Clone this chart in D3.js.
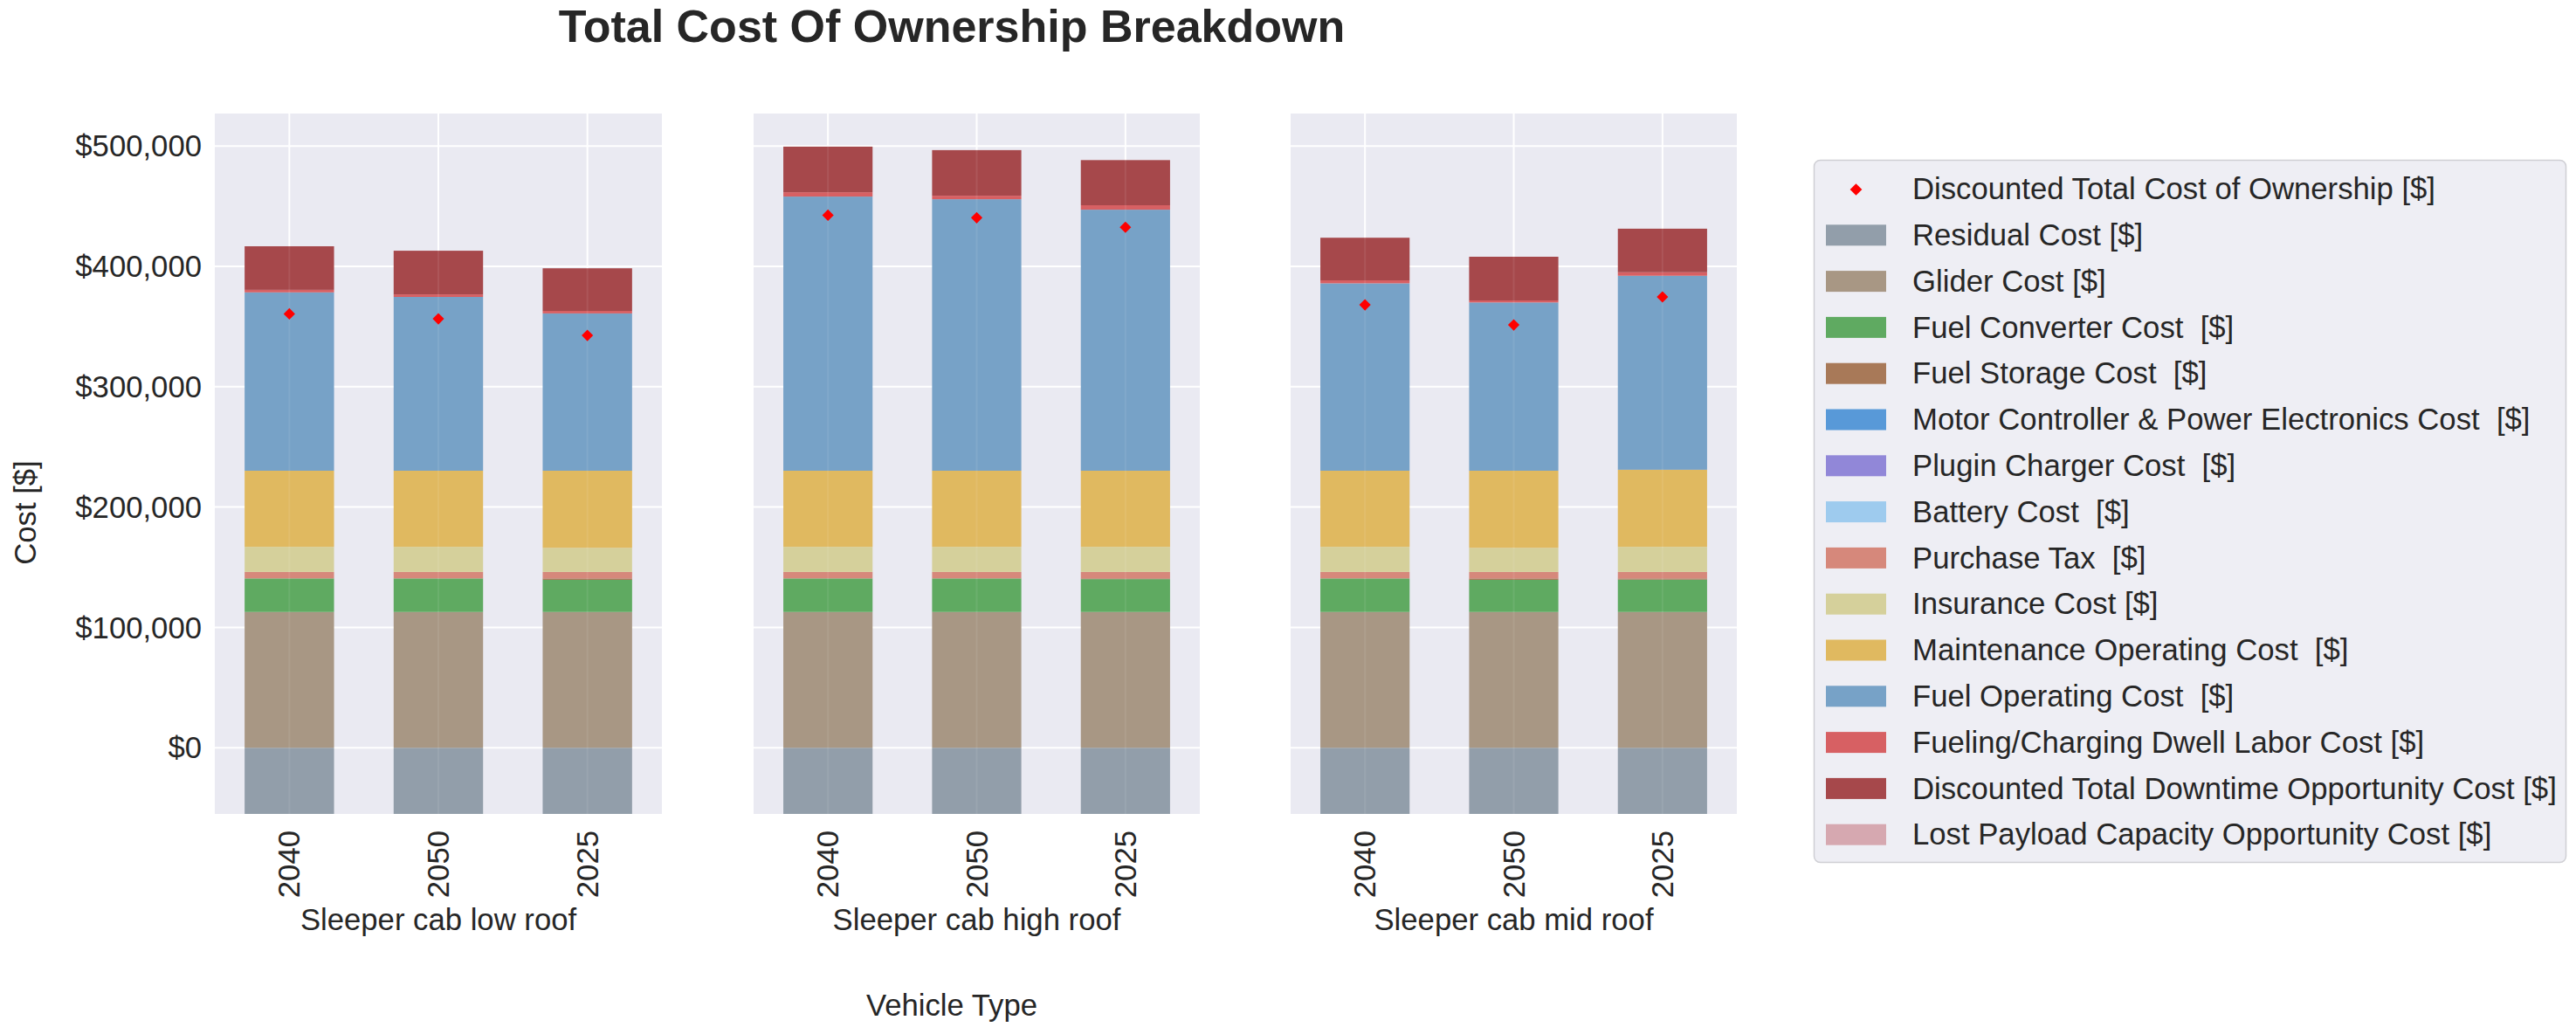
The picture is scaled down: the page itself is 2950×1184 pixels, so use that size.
<!DOCTYPE html>
<html><head><meta charset="utf-8">
<script src="https://cdn.jsdelivr.net/npm/d3@7"></script>
<style>body{margin:0;background:#fff}text{font-family:"Liberation Sans",Arial,sans-serif;fill:#262626;white-space:pre}</style>
</head><body><svg id="c" width="2950" height="1184"></svg>
<script>
const vehicleTypes = ["Sleeper cab low roof", "Sleeper cab high roof", "Sleeper cab mid roof"];
const years = ["2040", "2050", "2025"];
const yTicks = [0, 100000, 200000, 300000, 400000, 500000];
// values ordered: low(2040,2050,2025), high(2040,2050,2025), mid(2040,2050,2025)
const residualCost   = [-60000,-60000,-60000,-60000,-60000,-60000,-60000,-60000,-60000];
const gliderCost     = [112800,112800,112800,112800,112800,112800,112800,112800,112800];
const fuelConverter  = [27900,27900,26700,27900,27900,27300,27900,26700,26900];
const fuelStorage    = [0,0,1200,0,0,600,0,1200,1000];
const motorCtrl      = [0,0,0,0,0,0,0,0,0];
const pluginCharger  = [0,0,0,0,0,0,0,0,0];
const batteryCost    = [0,0,0,0,0,0,0,0,0];
const purchaseTax    = [5400,5400,5400,5400,5400,5400,5400,5400,5400];
const insuranceCost  = [20800,20800,20000,20800,20800,20800,20800,20000,20800];
const maintenanceCost= [63300,63300,64100,63300,63300,63300,63300,64100,64100];
const fuelOperating  = [148200,144400,130700,227800,225600,216900,155700,139800,161200];
const dwellLabor     = [2100,2100,2100,3600,2900,3700,2500,1700,2900];
const downtimeCost   = [36200,36300,35400,37900,37900,37500,35400,36300,36200];
const lostPayload    = [0,0,0,0,0,0,0,0,0];
const discountedTCO  = [360500,356400,342600,442500,440400,432500,368000,351300,374600];

const seriesNames = ["Residual Cost [$]","Glider Cost [$]","Fuel Converter Cost  [$]","Fuel Storage Cost  [$]",
 "Motor Controller & Power Electronics Cost  [$]","Plugin Charger Cost  [$]","Battery Cost  [$]","Purchase Tax  [$]",
 "Insurance Cost [$]","Maintenance Operating Cost  [$]","Fuel Operating Cost  [$]","Fueling/Charging Dwell Labor Cost [$]",
 "Discounted Total Downtime Opportunity Cost [$]","Lost Payload Capacity Opportunity Cost [$]"];
const seriesValues = [residualCost,gliderCost,fuelConverter,fuelStorage,motorCtrl,pluginCharger,batteryCost,purchaseTax,
 insuranceCost,maintenanceCost,fuelOperating,dwellLabor,downtimeCost,lostPayload];
const seriesColors = ["#929eaa","#a89784","#5faa61","#a87958","#5899d8","#9187d8","#9ecbee","#d6887b",
 "#d5d09b","#e0b960","#77a2c7","#d76063","#a6484b","#d6a8b0"];

const FS = 34.7;
const svg = d3.select("#c");
const panelX = [[246,758],[863,1374],[1478,1989]];
const plotTop = 130, plotBottom = 932;
const y = d3.scaleLinear().domain([-55000, 527000]).range([plotBottom, plotTop]);

svg.append("defs").selectAll("clipPath").data(panelX).join("clipPath")
  .attr("id",(d,i)=>"clip"+i).append("rect")
  .attr("x",d=>d[0]).attr("y",plotTop).attr("width",d=>d[1]-d[0]).attr("height",plotBottom-plotTop);

vehicleTypes.forEach((vt, p) => {
  const [x0, x1] = panelX[p];
  const x = d3.scaleBand().domain(years).range([x0, x1]);
  const bw = x.bandwidth() * 0.6;
  const g = svg.append("g");
  g.append("rect").attr("x",x0).attr("y",plotTop).attr("width",x1-x0).attr("height",plotBottom-plotTop).attr("fill","#eaeaf2");
  g.selectAll(".hy").data(yTicks).join("line").attr("x1",x0).attr("x2",x1)
   .attr("y1",d=>y(d)).attr("y2",d=>y(d)).attr("stroke","#fff").attr("stroke-width",2);
  g.selectAll(".vx").data(years).join("line").attr("x1",d=>x(d)+x.bandwidth()/2).attr("x2",d=>x(d)+x.bandwidth()/2)
   .attr("y1",plotTop).attr("y2",plotBottom).attr("stroke","#fff").attr("stroke-width",2);
  const rows = years.map((yr, j) => {
    const r = {year: yr};
    seriesNames.forEach((s, k) => r[s] = seriesValues[k][p*3 + j]);
    return r;
  });
  const stack = d3.stack().keys(seriesNames).offset(d3.stackOffsetDiverging)(rows);
  const bars = g.append("g").attr("clip-path", `url(#clip${p})`);
  stack.forEach((layer, k) => {
    bars.selectAll(null).data(layer).join("rect")
      .attr("x", d => x(d.data.year) + x.bandwidth()/2 - bw/2)
      .attr("width", bw)
      .attr("y", d => y(Math.max(d[0], d[1])))
      .attr("height", d => Math.abs(y(d[0]) - y(d[1])))
      .attr("fill", seriesColors[k]);
  });
  bars.selectAll(".vx2").data(years).join("line").attr("x1",d=>x(d)+x.bandwidth()/2).attr("x2",d=>x(d)+x.bandwidth()/2)
   .attr("y1",plotTop).attr("y2",plotBottom).attr("stroke","#fff").attr("stroke-opacity",0.08).attr("stroke-width",2);
  g.selectAll(".tco").data(years).join("path")
    .attr("d", d3.symbol(d3.symbolDiamond2, 110))
    .attr("transform", (d, j) => `translate(${x(d)+x.bandwidth()/2},${y(discountedTCO[p*3+j])})`)
    .attr("fill", "#ff0000");
  g.selectAll(".xt").data(years).join("text")
    .attr("transform", d => `translate(${x(d)+x.bandwidth()/2},${plotBottom+19}) rotate(-90)`)
    .attr("text-anchor","end").attr("dy","0.35em").attr("font-size",FS).text(d=>d);
  g.append("text").attr("x",(x0+x1)/2).attr("y",1065).attr("text-anchor","middle").attr("font-size",FS).text(vt);
  if (p === 0) {
    g.selectAll(".yt").data(yTicks).join("text")
      .attr("x", x0 - 15).attr("y", d => y(d)).attr("dy","0.35em").attr("text-anchor","end")
      .attr("font-size",FS).text(d => "$" + d3.format(",")(d));
  }
});

svg.append("text").attr("x",1090).attr("y",48).attr("text-anchor","middle").attr("font-size",52)
  .attr("font-weight","bold").text("Total Cost Of Ownership Breakdown");
svg.append("text").attr("x",1090).attr("y",1163).attr("text-anchor","middle").attr("font-size",FS).text("Vehicle Type");
svg.append("text").attr("transform","translate(41,587) rotate(-90)").attr("text-anchor","middle").attr("font-size",FS).text("Cost [$]");

const lg = svg.append("g");
lg.append("rect").attr("x",2077.5).attr("y",183.5).attr("width",861).attr("height",804).attr("rx",7)
  .attr("fill","#eeeef4").attr("stroke","#cfcfd4").attr("stroke-width",1.5);
const legendItems = [{name:"Discounted Total Cost of Ownership [$]", type:"marker"}]
  .concat(seriesNames.map((n,k)=>({name:n, type:"bar", color:seriesColors[k]})));
const rowY = i => 216 + 52.8*i;
legendItems.forEach((it,i)=>{
  if (it.type === "marker") {
    lg.append("path").attr("d", d3.symbol(d3.symbolDiamond2, 120))
      .attr("transform",`translate(2125.5,${rowY(i)+1})`).attr("fill","#ff0000");
  } else {
    lg.append("rect").attr("x",2091).attr("y",rowY(i)-11.5).attr("width",69).attr("height",24).attr("fill",it.color);
  }
  lg.append("text").attr("x",2190).attr("y",rowY(i)).attr("dy","0.35em").attr("font-size",FS).text(it.name);
});
</script></body></html>
